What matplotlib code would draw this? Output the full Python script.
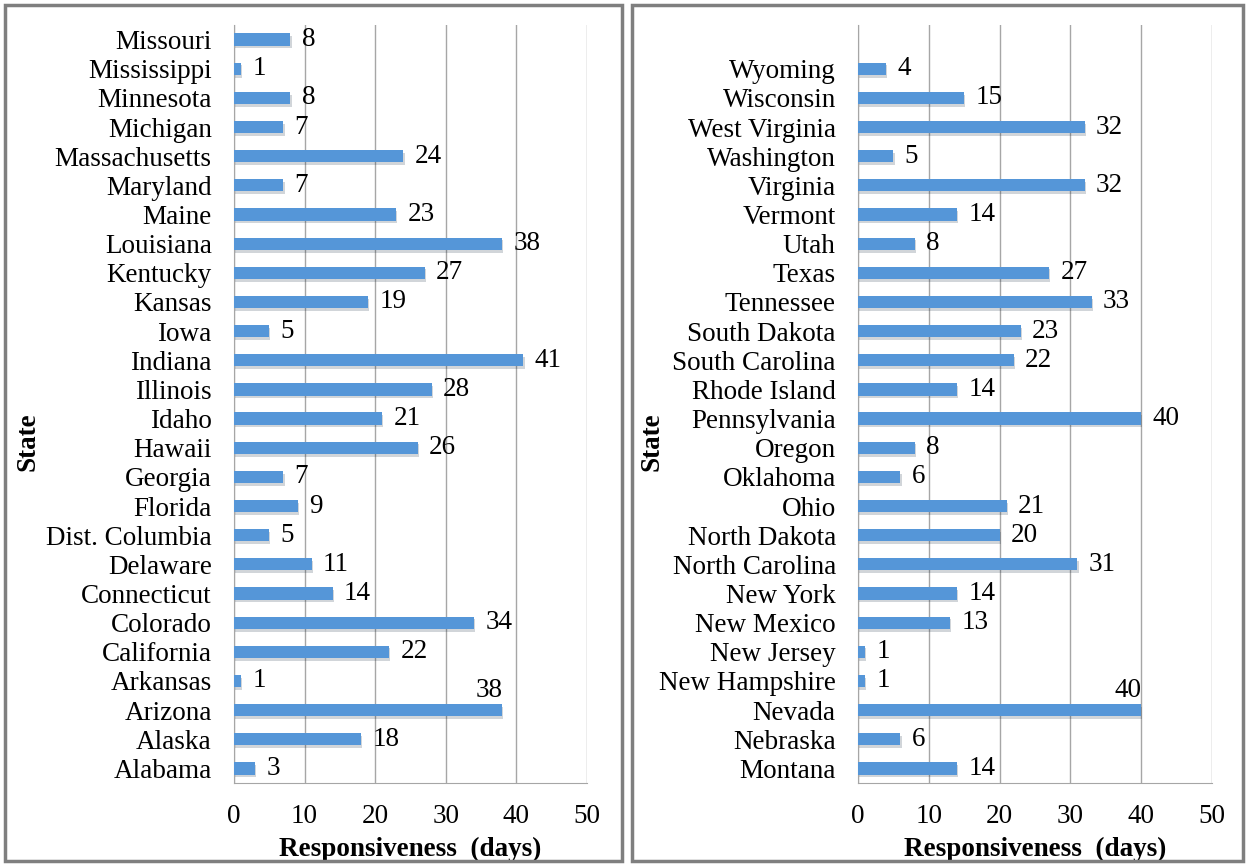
import matplotlib.pyplot as plt
import matplotlib.patheffects as pe
from matplotlib.patches import Rectangle

plt.rcParams['font.family'] = ['Liberation Serif', 'DejaVu Serif']

left_states = ['Alabama', 'Alaska', 'Arizona', 'Arkansas', 'California', 'Colorado',
               'Connecticut', 'Delaware', 'Dist. Columbia', 'Florida', 'Georgia', 'Hawaii',
               'Idaho', 'Illinois', 'Indiana', 'Iowa', 'Kansas', 'Kentucky', 'Louisiana',
               'Maine', 'Maryland', 'Massachusetts', 'Michigan', 'Minnesota', 'Mississippi',
               'Missouri']
left_days = [3, 18, 38, 1, 22, 34, 14, 11, 5, 9, 7, 26, 21, 28, 41, 5, 19, 27, 38,
             23, 7, 24, 7, 8, 1, 8]

right_states = ['Montana', 'Nebraska', 'Nevada', 'New Hampshire', 'New Jersey', 'New Mexico',
                'New York', 'North Carolina', 'North Dakota', 'Ohio', 'Oklahoma', 'Oregon',
                'Pennsylvania', 'Rhode Island', 'South Carolina', 'South Dakota', 'Tennessee',
                'Texas', 'Utah', 'Vermont', 'Virginia', 'Washington', 'West Virginia',
                'Wisconsin', 'Wyoming']
right_days = [14, 6, 40, 1, 1, 13, 14, 31, 20, 21, 6, 8, 40, 14, 22, 23, 33, 27, 8, 14,
              32, 5, 32, 15, 4]

# labels that Excel pushed above the bar end
left_above = ['Arizona']
right_above = ['Nevada']

BAR_COLOR = '#5596D8'
GRID_COLOR = '#A6A6A6'
FS = 19.5
W, H = 1247, 866


def draw_panel(ax, states, days, above, n_slots):
    y = list(range(len(states)))
    bars = ax.barh(y, days, height=0.42, color=BAR_COLOR, zorder=3,
                   path_effects=[pe.SimplePatchShadow(offset=(0.8, -2), alpha=0.2),
                                 pe.Normal()])
    for bar, state, val in zip(bars, states, days):
        yc = bar.get_y() + bar.get_height() / 2
        if state in above:
            ax.annotate(str(val), (val, yc), xytext=(0, 5), textcoords='offset points',
                        ha='right', va='bottom', fontsize=FS)
        else:
            ax.annotate(str(val), (val, yc), xytext=(8, 0), textcoords='offset points',
                        ha='left', va='center', fontsize=FS)
    ax.set_xlim(0, 50)
    ax.set_ylim(-0.5, n_slots - 0.5)
    ax.set_xticks(range(0, 51, 10))
    ax.set_yticks(y)
    ax.set_yticklabels(states)
    ax.tick_params(axis='both', length=0, labelsize=FS)
    ax.tick_params(axis='y', pad=16)
    ax.tick_params(axis='x', pad=15)
    ax.xaxis.grid(True, color=GRID_COLOR, linewidth=1.0, zorder=0)
    for side in ['top', 'right']:
        ax.spines[side].set_visible(False)
    ax.spines['left'].set_color(GRID_COLOR)
    ax.spines['bottom'].set_color(GRID_COLOR)
    ax.set_xlabel('Responsiveness  (days)', fontsize=FS, fontweight='bold', labelpad=6)
    ax.set_ylabel('State', fontsize=FS, fontweight='bold')


fig = plt.figure(figsize=(W / 100, H / 100), dpi=100)

ax1 = fig.add_axes([234 / W, 1 - 783 / H, 353 / W, 758 / H])
ax2 = fig.add_axes([858 / W, 1 - 783 / H, 354 / W, 758 / H])

draw_panel(ax1, left_states, left_days, left_above, 26)
draw_panel(ax2, right_states, right_days, right_above, 26)

ax1.yaxis.set_label_coords((40 - 234) / 353, 0.45)
ax2.yaxis.set_label_coords((664 - 858) / 354, 0.45)

for x0, x1 in [(5, 622), (632, 1243)]:
    fig.patches.append(Rectangle((x0 / W, 5 / H), (x1 - x0) / W, (861 - 5) / H,
                                 transform=fig.transFigure, fill=False,
                                 edgecolor='#7F7F7F', linewidth=2.5))

fig.savefig('out.png', dpi=100)
